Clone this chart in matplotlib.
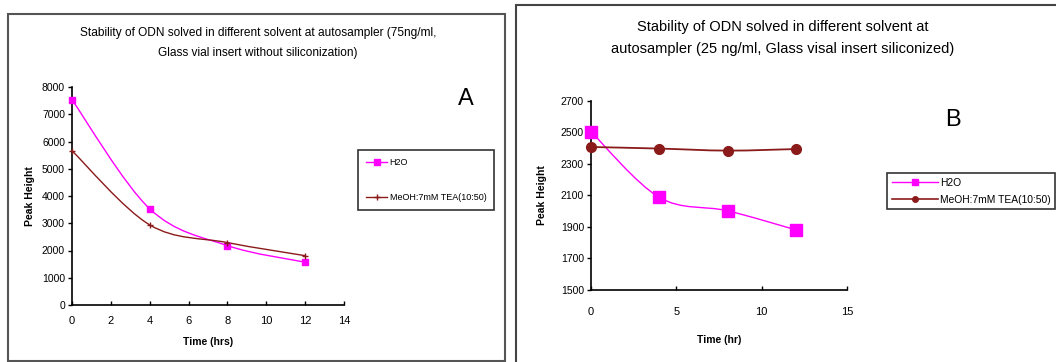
import matplotlib
matplotlib.use("Agg")
import matplotlib.pyplot as plt
from matplotlib.path import Path
from matplotlib.patches import PathPatch, Rectangle
from matplotlib.lines import Line2D

plt.rcParams['font.family'] = ['Liberation Sans', 'DejaVu Sans']

# panel A: 75 ng/ml, glass vial insert without siliconization
hours_a = [0, 4, 8, 12]
h2o_a = [7530, 3530, 2180, 1570]
meoh_a = [5660, 2940, 2290, 1810]

# panel B: 25 ng/ml, glass vial insert siliconized
hours_b = [0, 4, 8, 12]
h2o_b = [2505, 2088, 2003, 1882]
meoh_b = [2408, 2398, 2385, 2395]

label_h2o = "H2O"
label_meoh = "MeOH:7mM TEA(10:50)"

MAGENTA = "#ff00ff"
DARKRED = "#8b1a1a"

W, H = 1056, 362


def px_axes(fig, x0, y_top, x1, y_bot):
    return fig.add_axes([x0 / W, 1 - y_bot / H, (x1 - x0) / W, (y_bot - y_top) / H])


def smooth_path(xs, ys):
    # cubic bezier through the points, like the "smoothed line" option in a spreadsheet
    pts = list(zip(xs, ys))
    verts = [pts[0]]
    codes = [Path.MOVETO]
    n = len(pts)
    for i in range(n - 1):
        p0 = pts[max(i - 1, 0)]
        p1 = pts[i]
        p2 = pts[i + 1]
        p3 = pts[min(i + 2, n - 1)]
        c1 = (p1[0] + (p2[0] - p0[0]) / 6, p1[1] + (p2[1] - p0[1]) / 6)
        c2 = (p2[0] - (p3[0] - p1[0]) / 6, p2[1] - (p3[1] - p1[1]) / 6)
        verts += [c1, c2, p2]
        codes += [Path.CURVE4] * 3
    return Path(verts, codes)


def draw_series(ax, xs, ys, color, marker, ms, lw):
    ax.add_patch(PathPatch(smooth_path(xs, ys), facecolor="none", edgecolor=color,
                           lw=lw, zorder=3, clip_on=False))
    ax.plot(xs, ys, linestyle="none", marker=marker, color=color, ms=ms, mec=color,
            zorder=4, clip_on=False)


def style_axes(ax):
    for s in ["top", "right"]:
        ax.spines[s].set_visible(False)
    for s in ["left", "bottom"]:
        ax.spines[s].set_linewidth(1.2)
    ax.tick_params(axis="y", direction="out", length=3, width=1, labelsize=7.5, pad=2)
    ax.tick_params(axis="x", direction="in", length=3, width=1, labelsize=8, pad=8)


fig = plt.figure(figsize=(W / 100, H / 100), dpi=100)

# panel frames
fig.patches.append(Rectangle((8 / W, 1 / H), (505 - 8) / W, (H - 14 - 1) / H,
                             transform=fig.transFigure, fill=False, ec="#555555", lw=1.5))
fig.patches.append(Rectangle((516 / W, -0.02), (W + 5 - 516) / W, 1 - 5 / H + 0.02,
                             transform=fig.transFigure, fill=False, ec="#444444", lw=1.5))

# ---- A ----
ax1 = px_axes(fig, 72, 87, 344, 305)
draw_series(ax1, hours_a, h2o_a, MAGENTA, "s", 5, 1.0)
draw_series(ax1, hours_a, meoh_a, DARKRED, "+", 4, 1.0)
ax1.set_xlim(0, 14)
ax1.set_ylim(0, 8000)
ax1.set_xticks(range(0, 15, 2))
ax1.set_yticks(range(0, 8001, 1000))
style_axes(ax1)
ax1.set_xlabel("Time (hrs)", fontsize=7.5, fontweight="bold", labelpad=8)
ax1.set_ylabel("Peak Height", fontsize=7.5, fontweight="bold", labelpad=5)
fig.text(258 / W, 1 - 43 / H,
         "Stability of ODN solved in different solvent at autosampler (75ng/ml,\n"
         "Glass vial insert without siliconization)",
         ha="center", va="center", fontsize=8.6, linespacing=1.9)
fig.text(466 / W, 1 - 99 / H, "A", ha="center", va="center", fontsize=17)

handles_a = [Line2D([], [], color=MAGENTA, marker="s", ms=4, lw=1.0),
             Line2D([], [], color=DARKRED, marker="+", ms=4, lw=1.0)]
leg1 = fig.legend(handles_a, [label_h2o, label_meoh], loc="upper left",
                  bbox_to_anchor=(358 / W, 1 - 150 / H), fontsize=6.5,
                  frameon=True, fancybox=False, edgecolor="black", handlelength=2.3,
                  handletextpad=0.3, labelspacing=2.9, borderpad=0.9, borderaxespad=0)
leg1.get_frame().set_linewidth(1.2)

# ---- B ----
ax2 = px_axes(fig, 591, 101, 847, 290)
draw_series(ax2, hours_b, h2o_b, MAGENTA, "s", 8, 1.0)
draw_series(ax2, hours_b, meoh_b, DARKRED, "o", 7, 1.3)
ax2.set_xlim(0, 15)
ax2.set_ylim(1500, 2700)
ax2.set_xticks([0, 5, 10, 15])
ax2.set_yticks(range(1500, 2701, 200))
style_axes(ax2)
ax2.tick_params(axis="x", pad=12)
ax2.set_xlabel("Time (hr)", fontsize=7.5, fontweight="bold", labelpad=13)
ax2.set_ylabel("Peak Height", fontsize=7.5, fontweight="bold", labelpad=10)
fig.text(783 / W, 1 - 38 / H,
         "Stability of ODN solved in different solvent at\n"
         "autosampler (25 ng/ml, Glass visal insert siliconized)",
         ha="center", va="center", fontsize=10.5, linespacing=1.7)
fig.text(953 / W, 1 - 120 / H, "B", ha="center", va="center", fontsize=17)

handles_b = [Line2D([], [], color=MAGENTA, marker="s", ms=4, lw=1.0),
             Line2D([], [], color=DARKRED, marker="o", ms=4, lw=1.2)]
leg2 = fig.legend(handles_b, [label_h2o, label_meoh], loc="upper left",
                  bbox_to_anchor=(887 / W, 1 - 173 / H), fontsize=7.4,
                  frameon=True, fancybox=False, edgecolor="black", handlelength=4.5,
                  handletextpad=0.2, labelspacing=0.7, borderpad=0.45, borderaxespad=0)
leg2.get_frame().set_linewidth(1.2)

fig.savefig("out.png", dpi=100)
